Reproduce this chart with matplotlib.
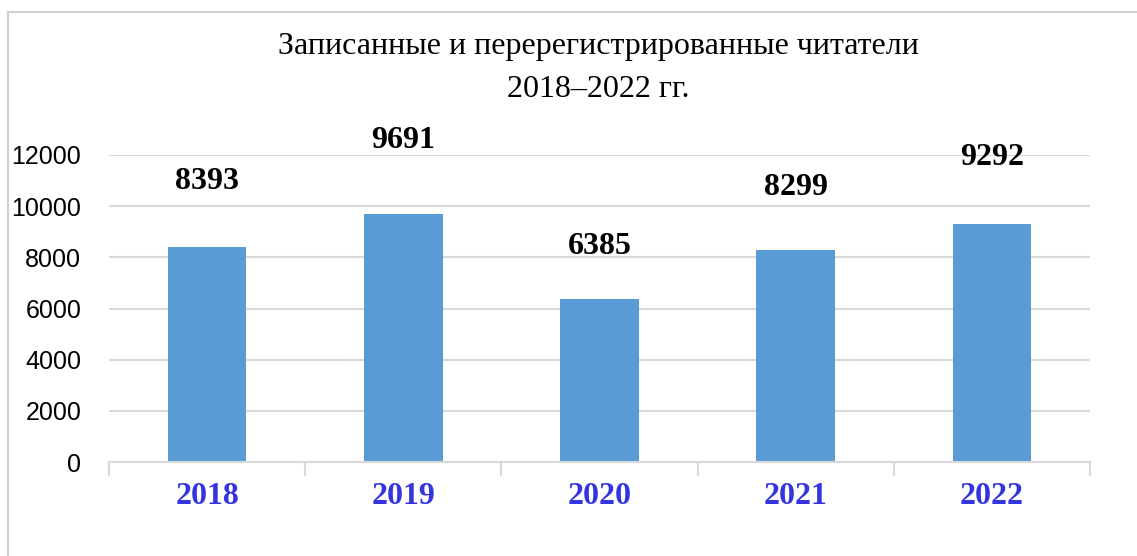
import matplotlib
matplotlib.use('Agg')
import matplotlib.pyplot as plt
from matplotlib.patches import Rectangle


years = ['2018', '2019', '2020', '2021', '2022']
readers = [8393, 9691, 6385, 8299, 9292]
y_ticks = [0, 2000, 4000, 6000, 8000, 10000, 12000]
title_text = 'Записанные и перерегистрированные читатели\n2018\u20122022 гг.'

# label heights above bar tops differ in the original (pixels)
label_offsets = [66, 74, 52, 62, 67]

BAR_COLOR = '#5B9BD5'
GRID_COLOR = '#D9D9D9'
YEAR_COLOR = '#3535E0'
SERIF = ['Liberation Serif', 'DejaVu Serif']
SANS = ['Liberation Sans', 'DejaVu Sans']

fig = plt.figure(figsize=(11.37, 5.56), dpi=100)
fig.patch.set_facecolor('white')

# outer chart frame, cut off on right and bottom like the screenshot
frame = Rectangle((8 / 1137, -0.1), 1.2, 1 - 12 / 556 + 0.1,
                  transform=fig.transFigure, fill=False,
                  edgecolor='#D0D0D0', linewidth=1.5)
fig.patches.append(frame)

ax = fig.add_axes([109 / 1137, 1 - 462 / 556, 981 / 1137, 307 / 556])

x = list(range(len(years)))
bars = ax.bar(x, readers, width=0.4, color=BAR_COLOR, zorder=3)

ax.set_xlim(-0.5, len(years) - 0.5)
ax.set_ylim(0, 12000)
ax.set_yticks(y_ticks)
ax.set_yticklabels([str(t) for t in y_ticks], family=SANS, fontsize=18)
ax.tick_params(axis='y', length=0, pad=20)

# category boundary ticks on x axis
ax.set_xticks([i - 0.5 for i in range(len(years) + 1)], minor=False)
ax.set_xticklabels([''] * (len(years) + 1))
ax.tick_params(axis='x', which='major', length=10, color=GRID_COLOR, width=1.5)
for i, yr in enumerate(years):
    ax.annotate(yr, (i, 0), xytext=(0, -35), textcoords='offset pixels',
                ha='center', va='center', fontsize=23, fontweight='bold',
                color=YEAR_COLOR, family=SERIF)

ax.yaxis.grid(True, color=GRID_COLOR, linewidth=1.5, zorder=0)
for side in ['top', 'right', 'left']:
    ax.spines[side].set_visible(False)
ax.spines['bottom'].set_color(GRID_COLOR)
ax.spines['bottom'].set_linewidth(1.5)
ax.spines['bottom'].set_zorder(4)

for i, (val, off) in enumerate(zip(readers, label_offsets)):
    ax.annotate(str(val), (i, val), xytext=(0, off), textcoords='offset pixels',
                ha='center', va='center', fontsize=23, fontweight='bold',
                color='black', family=SERIF, annotation_clip=False)

fig.text(598 / 1137, 1 - 68 / 556, title_text, ha='center', va='center',
         fontsize=23, family=SERIF, linespacing=1.6)

fig.savefig('out.png', dpi=100)
